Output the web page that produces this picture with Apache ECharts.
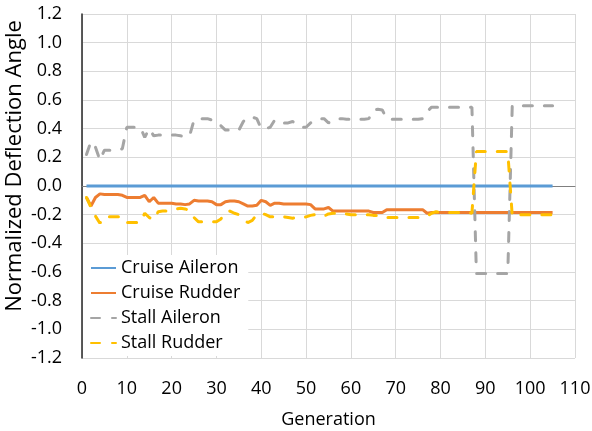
<!DOCTYPE html>
<html>
<head>
<meta charset="utf-8">
<script src="https://cdn.jsdelivr.net/npm/echarts@6/dist/echarts.min.js"></script>
<style>
html,body{margin:0;padding:0;background:#fff;}
#chart{width:592px;height:431px;}
</style>
</head>
<body>
<div id="chart"></div>
<script>
var generations = [
  1,2,3,4,5,6,7,8,9,10,
  11,12,13,14,15,16,17,18,19,20,
  21,22,23,24,25,26,27,28,29,30,
  31,32,33,34,35,36,37,38,39,40,
  41,42,43,44,45,46,47,48,49,50,
  51,52,53,54,55,56,57,58,59,60,
  61,62,63,64,65,66,67,68,69,70,
  71,72,73,74,75,76,77,78,79,80,
  81,82,83,84,85,86,87,88,89,90,
  91,92,93,94,95,96,97,98,99,100,
  101,102,103,104,105
];
var cruiseAileron = [
  0,0,0,0,0,0,0,0,0,0,
  0,0,0,0,0,0,0,0,0,0,
  0,0,0,0,0,0,0,0,0,0,
  0,0,0,0,0,0,0,0,0,0,
  0,0,0,0,0,0,0,0,0,0,
  0,0,0,0,0,0,0,0,0,0,
  0,0,0,0,0,0,0,0,0,0,
  0,0,0,0,0,0,0,0,0,0,
  0,0,0,0,0,0,0,0,0,0,
  0,0,0,0,0,0,0,0,0,0,
  0,0,0,0,0
];
var cruiseRudder = [
  -0.08,-0.14,-0.08,-0.055,-0.06,-0.06,-0.06,-0.06,-0.065,-0.08,
  -0.08,-0.08,-0.08,-0.065,-0.11,-0.08,-0.12,-0.12,-0.12,-0.12,
  -0.125,-0.125,-0.13,-0.125,-0.10,-0.105,-0.105,-0.105,-0.11,-0.13,
  -0.13,-0.11,-0.105,-0.105,-0.11,-0.125,-0.14,-0.14,-0.135,-0.10,
  -0.11,-0.135,-0.12,-0.12,-0.125,-0.125,-0.125,-0.125,-0.125,-0.125,
  -0.13,-0.16,-0.16,-0.16,-0.15,-0.175,-0.175,-0.175,-0.175,-0.175,
  -0.175,-0.175,-0.175,-0.175,-0.185,-0.185,-0.185,-0.165,-0.165,-0.165,
  -0.165,-0.165,-0.165,-0.165,-0.165,-0.165,-0.19,-0.185,-0.185,-0.185,
  -0.185,-0.185,-0.185,-0.185,-0.185,-0.185,-0.185,-0.185,-0.185,-0.185,
  -0.185,-0.185,-0.185,-0.185,-0.185,-0.185,-0.185,-0.185,-0.185,-0.185,
  -0.185,-0.185,-0.185,-0.185,-0.185
];
var stallAileron = [
  0.22,0.31,0.27,0.18,0.25,0.25,0.25,0.25,0.26,0.41,
  0.41,0.41,0.41,0.34,0.40,0.35,0.355,0.355,0.355,0.355,
  0.355,0.35,0.345,0.35,0.46,0.47,0.47,0.47,0.46,0.43,
  0.42,0.39,0.39,0.39,0.39,0.45,0.48,0.48,0.47,0.40,
  0.40,0.41,0.46,0.44,0.44,0.44,0.45,0.43,0.41,0.41,
  0.44,0.46,0.47,0.47,0.44,0.46,0.47,0.47,0.465,0.465,
  0.465,0.465,0.465,0.47,0.53,0.535,0.53,0.47,0.465,0.465,
  0.465,0.465,0.465,0.465,0.465,0.47,0.52,0.55,0.55,0.55,
  0.55,0.55,0.55,0.55,0.55,0.55,0.55,-0.61,-0.61,-0.61,
  -0.61,-0.61,-0.61,-0.61,-0.61,0.56,0.56,0.56,0.56,0.56,
  0.56,0.56,0.56,0.56,0.56
];
var stallRudder = [
  -0.08,-0.15,-0.21,-0.26,-0.215,-0.215,-0.215,-0.215,-0.215,-0.255,
  -0.255,-0.255,-0.255,-0.19,-0.22,-0.235,-0.18,-0.175,-0.175,-0.17,
  -0.16,-0.155,-0.16,-0.17,-0.22,-0.25,-0.25,-0.25,-0.25,-0.25,
  -0.23,-0.18,-0.175,-0.19,-0.20,-0.235,-0.255,-0.24,-0.20,-0.19,
  -0.20,-0.215,-0.215,-0.215,-0.215,-0.22,-0.225,-0.22,-0.22,-0.215,
  -0.205,-0.20,-0.20,-0.21,-0.195,-0.19,-0.19,-0.19,-0.195,-0.20,
  -0.20,-0.20,-0.20,-0.20,-0.205,-0.205,-0.21,-0.22,-0.22,-0.22,
  -0.22,-0.22,-0.22,-0.22,-0.22,-0.22,-0.21,-0.19,-0.18,-0.185,
  -0.185,-0.185,-0.185,-0.185,-0.185,-0.185,-0.19,0.24,0.24,0.24,
  0.24,0.24,0.24,0.24,0.24,-0.21,-0.20,-0.20,-0.20,-0.20,
  -0.20,-0.20,-0.20,-0.20,-0.20
];
var seriesNames = ['Cruise Aileron', 'Cruise Rudder', 'Stall Aileron', 'Stall Rudder'];
var xTicks = { min: 0, max: 110, interval: 10 };
var yTicks = { min: -1.2, max: 1.2, interval: 0.2 };
var xTitle = 'Generation';
var yTitle = 'Normalized Deflection Angle';

function pairs(vals) {
  return generations.map(function (g, i) { return [g, vals[i]]; });
}

var FONT = 'Open Sans';
var chart = echarts.init(document.getElementById('chart'), null, { renderer: 'canvas' });

function lineSeries(name, vals, color, dashed, z) {
  return {
    name: name,
    type: 'line',
    xAxisIndex: 0,
    data: pairs(vals),
    symbol: 'none',
    showSymbol: false,
    z: z,
    lineStyle: dashed ? { color: color, width: 3, type: [9, 12], cap: 'round' } : { color: color, width: 3, cap: 'butt' },
    itemStyle: { color: color },
    animation: false
  };
}

chart.setOption({
  animation: false,
  backgroundColor: '#fff',
  grid: { left: 82, right: 17, top: 14, bottom: 73, containLabel: false, outerBoundsMode: 'none' },
  xAxis: [{
    type: 'value',
    min: xTicks.min, max: xTicks.max, interval: xTicks.interval,
    axisLine: { show: false, onZero: false },
    axisTick: { show: false },
    splitLine: { show: true, lineStyle: { color: '#D9D9D9', width: 1 } },
    axisLabel: { color: '#000', fontFamily: FONT, fontSize: 18, margin: 22 },
    name: xTitle,
    nameLocation: 'middle',
    nameGap: 53,
    nameTextStyle: { color: '#000', fontFamily: FONT, fontSize: 18 }
  }, {
    type: 'value',
    position: 'bottom',
    min: xTicks.min, max: xTicks.max, interval: xTicks.interval,
    axisLine: { show: true, onZero: true, lineStyle: { color: '#7F7F7F', width: 1 } },
    axisTick: { show: false },
    axisLabel: { show: false },
    splitLine: { show: false }
  }],
  yAxis: {
    type: 'value',
    min: yTicks.min, max: yTicks.max, interval: yTicks.interval,
    axisLine: { show: true, onZero: false, lineStyle: { color: '#262626', width: 1.5 } },
    axisTick: { show: false },
    splitLine: { show: true, lineStyle: { color: '#D9D9D9', width: 1 } },
    axisLabel: {
      color: '#000', fontFamily: FONT, fontSize: 18, margin: 20,
      formatter: function (v) { return Math.abs(v) < 1e-9 ? '0.0' : v.toFixed(1); }
    }
  },
  legend: {
    data: seriesNames,
    orient: 'vertical',
    left: 83, top: 255,
    padding: [4, 8, 4, 7],
    backgroundColor: '#fff',
    itemWidth: 25, itemHeight: 14, itemGap: 7,
    itemStyle: { opacity: 0 },
    textStyle: { color: '#000', fontFamily: FONT, fontSize: 18, lineHeight: 18 }
  },
  graphic: [{
    type: 'text',
    x: 15, y: 166,
    rotation: Math.PI / 2,
    style: {
      text: yTitle,
      fill: '#000',
      font: '22px "Open Sans"',
      textAlign: 'center',
      textVerticalAlign: 'middle'
    }
  }],
  series: [
    lineSeries(seriesNames[0], cruiseAileron, '#5B9BD5', false, 2),
    lineSeries(seriesNames[1], cruiseRudder, '#ED7D31', false, 3),
    lineSeries(seriesNames[2], stallAileron, '#A5A5A5', true, 4),
    lineSeries(seriesNames[3], stallRudder, '#FFC000', true, 5)
  ]
});
</script>
</body>
</html>
